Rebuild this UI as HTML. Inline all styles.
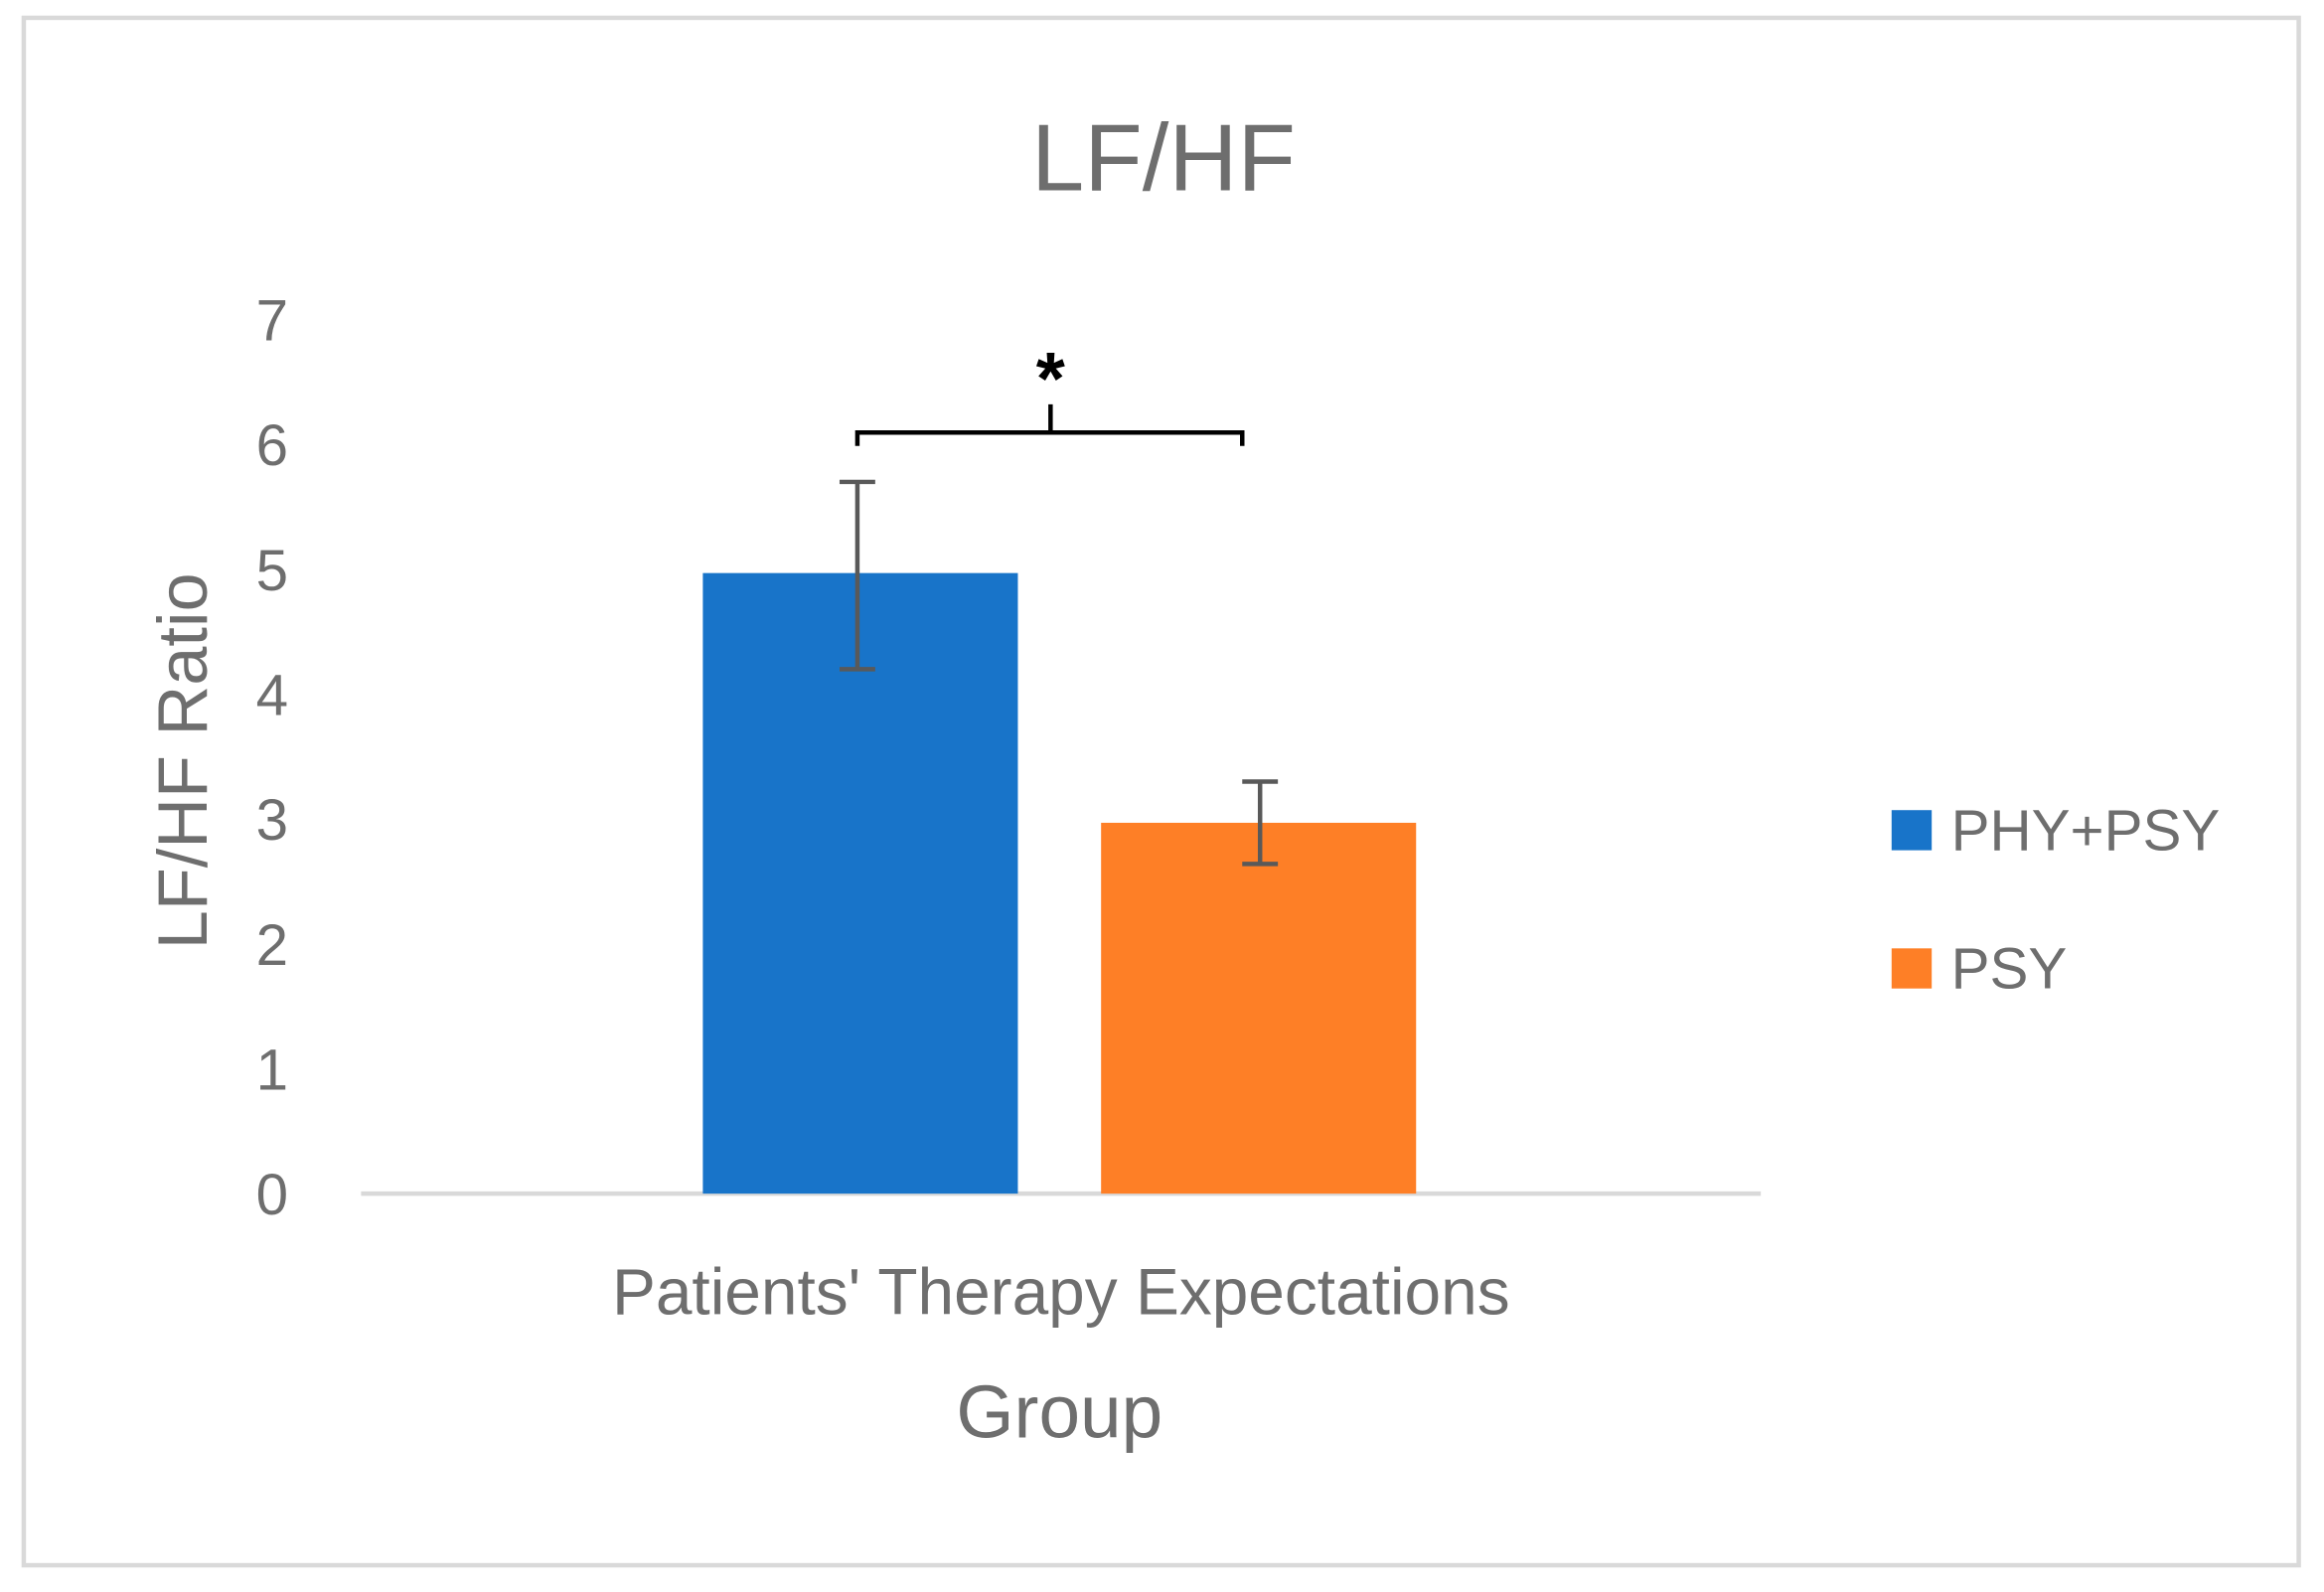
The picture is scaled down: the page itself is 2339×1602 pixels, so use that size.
<!DOCTYPE html>
<html><head><meta charset="utf-8"><style>
html,body{margin:0;padding:0;background:#fff;}
svg{display:block;}
text{font-family:"Liberation Sans",sans-serif;fill:#6e6e6e;}
</style></head><body>
<svg id="chart" width="2339" height="1602" viewBox="0 0 1564 1071" preserveAspectRatio="none" xmlns="http://www.w3.org/2000/svg">
<rect x="16" y="12" width="1531" height="1041" fill="#fff" stroke="#d9d9d9" stroke-width="3"/>
<text x="783" y="128" font-size="64" text-anchor="middle">LF/HF</text>
<text transform="translate(139,512) rotate(-90)" font-size="47" text-anchor="middle">LF/HF Ratio</text>
<g id="yticks"></g>
<line x1="243" x2="1185" y1="803" y2="803" stroke="#d9d9d9" stroke-width="3"/>
<g id="bars"></g>
<text x="714" y="884" font-size="44" text-anchor="middle">Patients' Therapy Expectations</text>
<text x="713" y="967" font-size="50" text-anchor="middle">Group</text>
<path d="M577,300 L577,291 L836,291 L836,300 M707,291 L707,272" fill="none" stroke="#000" stroke-width="3"/>
<text x="707" y="272" font-size="50" font-weight="bold" text-anchor="middle" style="fill:#000">*</text>
<rect x="1273" y="545" width="27" height="27" fill="#1874c9"/>
<text x="1313" y="572" font-size="39">PHY+PSY</text>
<rect x="1273" y="638" width="27" height="27" fill="#fe7f26"/>
<text x="1313" y="665" font-size="39">PSY</text>
</svg>
<script>
const yTicks=[0,1,2,3,4,5,6,7];
const series=["PHY+PSY","PSY"];
const values=[4.97,2.97];
const errLow=[4.2,2.64];
const errHigh=[5.7,3.3];
const colors=["#1874c9","#fe7f26"];
const NS="http://www.w3.org/2000/svg";
function y(v){return 803-v*84;}
const barX=[473,741], barW=212;
const yt=document.getElementById('yticks');
yTicks.forEach(t=>{
  const e=document.createElementNS(NS,'text');
  
  
  e.setAttribute('x',194);e.setAttribute('y',y(t)+14);
  e.setAttribute('font-size','39');e.setAttribute('text-anchor','end');
  e.textContent=t;yt.appendChild(e);
});
const g=document.getElementById('bars');
values.forEach((v,i)=>{
  const r=document.createElementNS(NS,'rect');
  
  
  r.setAttribute('x',barX[i]);r.setAttribute('width',barW);
  r.setAttribute('y',y(v));r.setAttribute('height',y(0)-y(v));
  r.setAttribute('fill',colors[i]);g.appendChild(r);
  const cx=barX[i]+barW/2+(i==0?-2:1);
  const p=document.createElementNS(NS,'path');
  
  
  const a=y(errHigh[i]),b=y(errLow[i]);
  p.setAttribute('d',`M${cx},${a}L${cx},${b}M${cx-12},${a}L${cx+12},${a}M${cx-12},${b}L${cx+12},${b}`);
  p.setAttribute('stroke','#595959');p.setAttribute('stroke-width','3');p.setAttribute('fill','none');
  g.appendChild(p);
});
</script>
</body></html>
